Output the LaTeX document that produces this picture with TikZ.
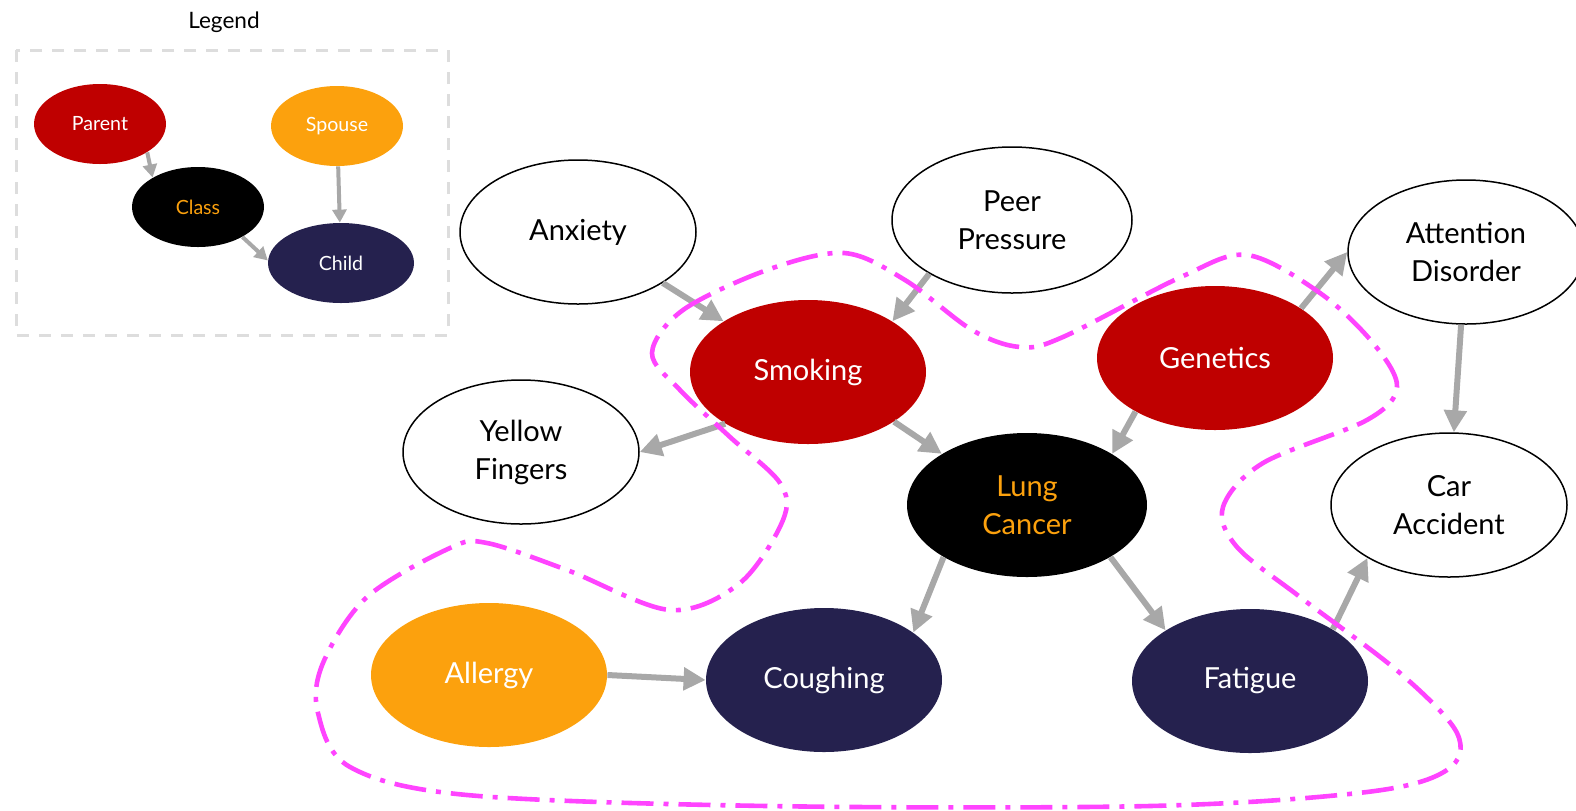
\documentclass[tikz,border=0pt]{standalone}
\usepackage{fontspec}
\setmainfont{Lato}
\usetikzlibrary{shapes.geometric,arrows.meta}
\definecolor{parred}{HTML}{BF0000}
\definecolor{sporange}{HTML}{FCA10D}
\definecolor{chnavy}{HTML}{25214E}
\definecolor{arrgray}{HTML}{A8A8A8}
\definecolor{blobmag}{HTML}{FF44FF}
\definecolor{boxgray}{HTML}{DDDDDD}
\tikzset{
  bignode/.style={ellipse, inner sep=0pt, minimum width=118pt, minimum height=72pt, align=center, font=\fontsize{14.5}{19}\selectfont},
  plainnode/.style={bignode, draw=black, line width=0.75pt, fill=white, text=black},
  parnode/.style={fill=parred, text=white},
  spnode/.style={fill=sporange, text=white},
  clsnode/.style={fill=black, text=sporange},
  chnode/.style={fill=chnavy, text=white},
  smallnode/.style={ellipse, inner sep=0pt, minimum width=66pt, minimum height=40pt, font=\fontsize{9.8}{11}\selectfont},
  bigarrow/.style={draw=arrgray, line width=3pt, -{Triangle[length=11pt,width=11pt]}, arrgray},
  smallarrow/.style={draw=arrgray, line width=2pt, -{Triangle[length=6.5pt,width=7pt]}, arrgray},
  blob/.style={draw=blobmag, line width=2.3pt, dash pattern=on 16pt off 5pt on 2.5pt off 5pt}
}
\begin{document}
\begin{tikzpicture}[x=0.5pt,y=-0.5pt]
\useasboundingbox (0,0) rectangle (1576,810);
% legend
\node[font=\fontsize{11.3}{13}\selectfont] (legtitle) at (224,22) {Legend};
\draw[boxgray, line width=1.5pt, dash pattern=on 6pt off 5pt] (16,50) rectangle (448,335);
\node[smallnode, parnode] (par) at (100,124) {Parent};
\node[smallnode, clsnode] (cls) at (198,207) {Class};
\node[smallnode, spnode] (spo) at (337,126) {Spouse};
\node[smallnode, chnode, minimum width=73pt] (chd) at (341,263) {Child};
\draw[smallarrow] (par.-31) -- (cls.147);
\draw[smallarrow] (cls.-34) -- (chd.178);
\draw[smallarrow] (spo) -- (chd);
% main nodes
\node[plainnode] (anx) at (578,232) {Anxiety};
\node[plainnode, minimum width=120pt, minimum height=73pt] (pp) at (1012,220) {Peer\\Pressure};
\node[plainnode] (att) at (1466,252) {Attention\\Disorder};
\node[bignode, parnode] (smk) at (808,372) {Smoking};
\node[bignode, parnode] (gen) at (1215,358) {Genetics};
\node[plainnode] (yf) at (521,452) {Yellow\\Fingers};
\node[bignode, clsnode, minimum width=120pt] (lc) at (1027,505) {Lung\\Cancer};
\node[plainnode] (car) at (1449,505) {Car\\Accident};
\node[bignode, spnode] (all) at (489,675) {Allergy};
\node[bignode, chnode] (cou) at (824,680) {Coughing};
\node[bignode, chnode] (fat) at (1250,681) {Fatigue};
% edges
\draw[bigarrow] (anx.-31) -- (smk.149);
\draw[bigarrow] (pp.213) -- (smk.31);
\draw[bigarrow] (smk.212) -- (yf.0);
\draw[bigarrow] (smk.-30) -- (lc.149);
\draw[bigarrow] (gen.214) -- (lc.31);
\draw[bigarrow] (gen.30) -- (att.180);
\draw[bigarrow] (att) -- (car);
\draw[bigarrow] (lc.212) -- (cou.28);
\draw[bigarrow] (lc.-32) -- (fat.149);
\draw[bigarrow] (all.0) -- (cou.180);
\draw[bigarrow] (fat.32) -- (car.213);
% markov blanket
\draw[blob] plot[smooth cycle, tension=0.55] coordinates {
(652,353) (683,310) (767,270) (844,253) (905,280) (972,330) (1020,347) (1063,337)
(1181,277) (1247,255) (1320,293) (1373,343) (1397,387) (1367,420) (1263,463)
(1223,507) (1237,547) (1300,597) (1400,673) (1457,733) (1447,770) (1367,792)
(1150,806) (767,806) (467,795) (350,767) (318,713) (323,663) (367,597) (450,548)
(487,543) (567,570) (670,610) (740,583) (783,520) (780,483) (730,437) (680,390)};
\end{tikzpicture}
\end{document}
